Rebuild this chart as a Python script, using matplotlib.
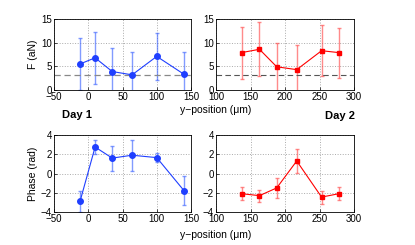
import numpy as np
import matplotlib
matplotlib.use("Agg")
import matplotlib.pyplot as plt

plt.rcParams['font.family'] = ['Liberation Sans', 'DejaVu Sans']
plt.rcParams['font.size'] = 7

# --- data ---
x_day1 = [-12, 10, 35, 64, 100, 140]
F_day1 = [5.5, 6.8, 3.9, 3.2, 7.1, 3.3]
F_err1 = [5.5, 5.5, 4.9, 4.9, 4.9, 4.7]
ph_day1 = [-2.9, 2.75, 1.6, 1.9, 1.65, -1.8]
ph_err1 = [1.1, 0.7, 1.3, 1.6, 0.5, 1.5]

x_day2 = [137, 163, 188, 217, 253, 278]
F_day2 = [7.9, 8.6, 4.9, 4.3, 8.3, 7.9]
F_err2 = [5.5, 5.7, 5.1, 5.2, 5.4, 5.3]
ph_day2 = [-2.1, -2.3, -1.5, 1.3, -2.45, -2.1]
ph_err2 = [0.65, 0.62, 1.0, 1.25, 0.68, 0.65]

noise_F = 3.15

blue = '#1f3fff'
red = '#ff0000'
blue_err = (0.25, 0.4, 1.0, 0.65)
red_err = (1.0, 0.3, 0.3, 0.65)

fig = plt.figure(figsize=(4.15, 2.45), dpi=100)
W, H = 415.0, 245.0

def make_ax(l, r, t, b):
    return fig.add_axes([l / W, 1 - b / H, (r - l) / W, (b - t) / H])

ax1 = make_ax(54, 191, 19, 90)
ax2 = make_ax(216, 354, 19, 90)
ax3 = make_ax(54, 191, 135, 212)
ax4 = make_ax(216, 354, 135, 212)

def style(ax):
    ax.grid(True, linestyle=':', color='#aaaaaa', linewidth=0.7)
    ax.tick_params(direction='in', length=2, width=0.5, pad=1.5, labelsize=7)
    for s in ax.spines.values():
        s.set_linewidth(0.6)

# top row: force
ax1.errorbar(x_day1, F_day1, yerr=F_err1, color=blue, ecolor=blue_err,
             marker='o', ms=4, lw=0.8, elinewidth=1.0, capsize=1.2)
ax1.axhline(noise_F, color='#888888', ls='--', lw=0.9, dashes=(5, 3))
ax1.set_xlim(-50, 150)
ax1.set_ylim(0, 15)
ax1.set_xticks([-50, 0, 50, 100, 150])
ax1.set_yticks([0, 5, 10, 15])
ax1.set_ylabel('F (aN)', fontsize=7.5, labelpad=2)

ax2.errorbar(x_day2, F_day2, yerr=F_err2, color=red, ecolor=red_err,
             marker='s', ms=3.3, lw=0.8, elinewidth=1.0, capsize=1.2)
ax2.axhline(noise_F, color='#555555', ls='--', lw=0.8, dashes=(5, 3))
ax2.set_xlim(100, 300)
ax2.set_ylim(0, 15)
ax2.set_xticks([100, 150, 200, 250, 300])
ax2.set_yticks([0, 5, 10, 15])

# bottom row: phase
ax3.errorbar(x_day1, ph_day1, yerr=ph_err1, color=blue, ecolor=blue_err,
             marker='o', ms=4, lw=0.8, elinewidth=1.0, capsize=1.2)
ax3.set_xlim(-50, 150)
ax3.set_ylim(-4, 4)
ax3.set_xticks([-50, 0, 50, 100, 150])
ax3.set_yticks([-4, -2, 0, 2, 4])
ax3.set_ylabel('Phase (rad)', fontsize=7.5, labelpad=2)

ax4.errorbar(x_day2, ph_day2, yerr=ph_err2, color=red, ecolor=red_err,
             marker='s', ms=3.3, lw=0.8, elinewidth=1.0, capsize=1.2)
ax4.set_xlim(100, 300)
ax4.set_ylim(-4, 4)
ax4.set_xticks([100, 150, 200, 250, 300])
ax4.set_yticks([-4, -2, 0, 2, 4])

for ax in (ax1, ax2, ax3, ax4):
    style(ax)

fig.text(216 / W, 1 - 110 / H, 'y\u2212position (\u03bcm)', ha='center', va='center', fontsize=7.5)
fig.text(216 / W, 1 - 235 / H, 'y\u2212position (\u03bcm)', ha='center', va='center', fontsize=7.5)
fig.text(77 / W, 1 - 115 / H, 'Day 1', ha='center', va='center', fontsize=8, fontweight='bold')
fig.text(340 / W, 1 - 116 / H, 'Day 2', ha='center', va='center', fontsize=8, fontweight='bold')

fig.savefig('out.png', dpi=100)
